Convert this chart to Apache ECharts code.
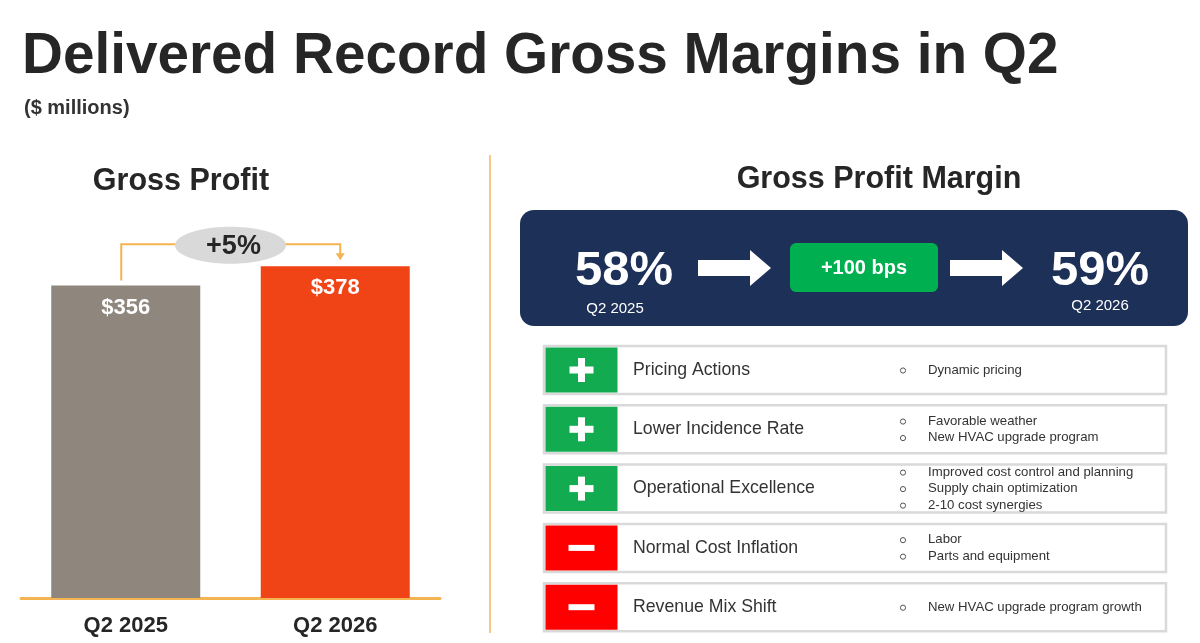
<!DOCTYPE html>
<html><head><meta charset="utf-8">
<script src="https://cdn.jsdelivr.net/npm/echarts@6/dist/echarts.min.js"></script>
<style>html,body{margin:0;padding:0;background:#fff}#c{width:1200px;height:643px}</style>
</head><body><div id="c"></div>
<script>
// ---- data ----
const categories = ['Q2 2025', 'Q2 2026'];
const grossProfit = [356, 378];
const growthLabel = '+5%';
const marginValues = [58, 59];
const marginPeriods = ['Q2 2025', 'Q2 2026'];
const driverNames = ['Pricing Actions', 'Lower Incidence Rate', 'Operational Excellence', 'Normal Cost Inflation', 'Revenue Mix Shift'];
const driverSigns = ['+', '+', '+', '-', '-'];
const driverBullets = [
  ['Dynamic pricing'],
  ['Favorable weather', 'New HVAC upgrade program'],
  ['Improved cost control and planning', 'Supply chain optimization', '2-10 cost synergies'],
  ['Labor', 'Parts and equipment'],
  ['New HVAC upgrade program growth']
];

const FF = '"Liberation Sans", Arial, Helvetica, sans-serif';
const DARK = '#262626';
const ORANGE = '#F5B452';

function txt(x, y, text, size, opts) {
  opts = opts || {};
  const a = opts.align || 'left', v = opts.valign || 'middle';
  return { type: 'text', x: x, y: y, silent: true, z: opts.z || 10,
    style: { text: text, font: (opts.bold ? 'bold ' : '') + size + 'px ' + FF,
      fill: opts.color || DARK, align: a, textAlign: a, verticalAlign: v, textVerticalAlign: v } };
}

const chart = echarts.init(document.getElementById('c'), null, { renderer: 'canvas' });

const els = [];
// Titles
els.push(txt(22, 57, 'Delivered Record Gross Margins in Q2', 56.7, { bold: true }));
els.push(txt(24, 108, '($ millions)', 20, { bold: true, color: '#333' }));
els.push(txt(181, 182, 'Gross Profit', 30.5, { bold: true, align: 'center' }));
els.push(txt(879, 180, 'Gross Profit Margin', 30.5, { bold: true, align: 'center' }));
// divider
els.push({ type: 'line', silent: true, shape: { x1: 490, y1: 155, x2: 490, y2: 633 }, style: { stroke: '#F6C88A', lineWidth: 2 } });

// Margin box
els.push({ type: 'rect', silent: true, shape: { x: 520, y: 210, width: 668, height: 116, r: 14 }, style: { fill: '#1D3057' } });
const mx = [624, 1100];
marginValues.forEach(function (v, i) {
  els.push(txt(mx[i], 271, v + '%', 49, { bold: true, align: 'center', color: '#fff', z: 12 }));
  els.push(txt(mx[i] - (i === 0 ? 9 : 0), i === 0 ? 309 : 306, marginPeriods[i], 15, { align: 'center', color: '#fff', z: 12 }));
});
function arrow(x0, x1, cy) {
  const hw = 21;
  return { type: 'polygon', silent: true, z: 12, shape: { points: [
    [x0, cy - 8], [x1 - hw, cy - 8], [x1 - hw, cy - 18], [x1, cy], [x1 - hw, cy + 18], [x1 - hw, cy + 8], [x0, cy + 8]] },
    style: { fill: '#fff' } };
}
els.push(arrow(698, 771, 268));
els.push(arrow(950, 1023, 268));
els.push({ type: 'rect', silent: true, z: 12, shape: { x: 790, y: 243, width: 148, height: 49, r: 6 }, style: { fill: '#00B050' } });
els.push(txt(864, 268, '+' + Math.round((marginValues[1] - marginValues[0]) * 100) + ' bps', 20, { bold: true, align: 'center', color: '#fff', z: 13 }));

// Driver rows
driverNames.forEach(function (name, i) {
  const top = 346 + i * 59.3, h = 48, cy = top + h / 2;
  const pos = driverSigns[i] === '+';
  els.push({ type: 'rect', silent: true, shape: { x: 544, y: top, width: 622, height: h }, style: { fill: '#fff', stroke: '#D9D9D9', lineWidth: 2.5 } });
  els.push({ type: 'rect', silent: true, z: 11, shape: { x: 545.5, y: top + 1.5, width: 72, height: h - 3 }, style: { fill: pos ? '#12AB50' : '#FF0000' } });
  if (pos) {
    els.push({ type: 'rect', silent: true, z: 12, shape: { x: 569.5, y: cy - 3.5, width: 24, height: 7 }, style: { fill: '#fff' } });
    els.push({ type: 'rect', silent: true, z: 12, shape: { x: 578, y: cy - 12, width: 7, height: 24 }, style: { fill: '#fff' } });
  } else {
    els.push({ type: 'rect', silent: true, z: 12, shape: { x: 568.5, y: cy - 3, width: 26, height: 6 }, style: { fill: '#fff' } });
  }
  els.push(txt(633, cy, name, 17.7, { color: '#333', z: 12 }));
  const b = driverBullets[i], lh = 16.5;
  b.forEach(function (t, j) {
    const by = cy + (j - (b.length - 1) / 2) * lh;
    els.push({ type: 'circle', silent: true, z: 12, shape: { cx: 903, cy: by + 0.5, r: 2.6 }, style: { fill: 'none', stroke: '#555', lineWidth: 1 } });
    els.push(txt(928, by, t, 13.2, { color: '#333', z: 12 }));
  });
});

chart.setOption({
  animation: false,
  backgroundColor: '#fff',
  grid: { left: 21, right: 760, top: 247, bottom: 45 },
  xAxis: {
    type: 'category', data: categories,
    axisLine: { lineStyle: { color: ORANGE, width: 3 } },
    axisTick: { show: false },
    axisLabel: { color: DARK, fontFamily: FF, fontWeight: 'bold', fontSize: 22, margin: 17 }
  },
  yAxis: { type: 'value', min: 0, max: 400, show: false, splitLine: { show: false } },
  series: [{
    type: 'bar', barWidth: 149, z: 2,
    data: grossProfit.map(function (v, i) { return { value: v, itemStyle: { color: i === 0 ? '#8F867D' : '#F04316' } }; }),
    label: { show: true, position: 'insideTop', distance: 11, formatter: '${c}', color: '#fff', fontFamily: FF, fontWeight: 'bold', fontSize: 22 }
  }],
  graphic: { elements: els }
});

// Growth connector, positioned from the bar scale
const p1 = chart.convertToPixel({ seriesIndex: 0 }, [0, grossProfit[0]]);
const p2 = chart.convertToPixel({ seriesIndex: 0 }, [1, grossProfit[1]]);
const ly = p2[1] - 22, lx1 = p1[0] - 4.5, lx2 = p2[0] + 5;
const ecx = (p1[0] + p2[0]) / 2, ecy = ly + 1;
const conn = [
  { type: 'polyline', silent: true, z: 20, shape: { points: [[lx1, p1[1] - 5], [lx1, ly], [lx2, ly], [lx2, p2[1] - 12]] }, style: { stroke: ORANGE, lineWidth: 2, fill: 'none' } },
  { type: 'polygon', silent: true, z: 20, shape: { points: [[lx2 - 4.5, p2[1] - 13], [lx2 + 4.5, p2[1] - 13], [lx2, p2[1] - 6]] }, style: { fill: ORANGE } },
  { type: 'ellipse', silent: true, z: 21, shape: { cx: ecx, cy: ecy, rx: 55.5, ry: 18.5 }, style: { fill: '#D9D9D9' } },
  txt(ecx + 3, ecy + 1, growthLabel, 27, { bold: true, align: 'center', z: 22 })
];
chart.setOption({ graphic: { elements: els.concat(conn) } });
</script></body></html>
